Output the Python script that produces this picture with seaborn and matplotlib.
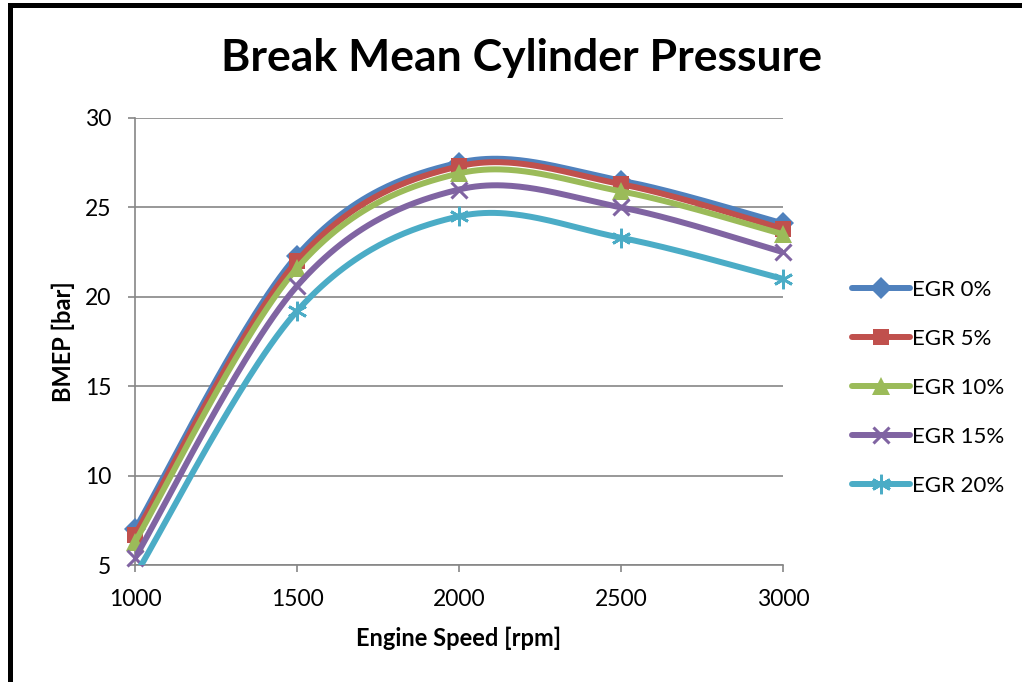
import numpy as np
import pandas as pd
import matplotlib
matplotlib.use("Agg")
import matplotlib.pyplot as plt
from matplotlib.lines import Line2D
import seaborn as sns

# ---- data ----
speed = [1000, 1500, 2000, 2500, 3000]
series_names = ["EGR 0%", "EGR 5%", "EGR 10%", "EGR 15%", "EGR 20%"]
egr0 = [7.0, 22.3, 27.5, 26.5, 24.1]
egr5 = [6.7, 22.0, 27.3, 26.3, 23.8]
egr10 = [6.3, 21.6, 26.9, 25.9, 23.5]
egr15 = [5.4, 20.6, 26.0, 25.0, 22.5]
egr20 = [4.4, 19.2, 24.5, 23.3, 21.0]
values = [egr0, egr5, egr10, egr15, egr20]
yticks = [5, 10, 15, 20, 25, 30]
xticks = [1000, 1500, 2000, 2500, 3000]

colors = ["#4F81BD", "#C0504D", "#9BBB59", "#8064A2", "#4BACC6"]
markers = ["D", "s", "^", "x", "*"]
msizes = [11, 12, 13, 12, 14]

sns.set_theme(style="white")
FONT = ["Lato", "DejaVu Sans"]
plt.rcParams["font.family"] = FONT
plt.rcParams["text.color"] = "black"
plt.rcParams["axes.labelcolor"] = "black"
plt.rcParams["xtick.color"] = "black"
plt.rcParams["ytick.color"] = "black"

YMIN, YMAX = 5, 30


def smooth(xs, ys, n=60):
    """Excel-like Catmull-Rom (Bezier) smoothing between data points."""
    xs = np.asarray(xs, float)
    ys = np.asarray(ys, float)
    P = np.column_stack([xs, ys])
    m = len(P)
    out = []
    t = np.linspace(0, 1, n)[:, None]
    for i in range(m - 1):
        p0 = P[i - 1] if i > 0 else P[i]
        p1 = P[i]
        p2 = P[i + 1]
        p3 = P[i + 2] if i + 2 < m else P[i + 1]
        c1 = p1 + (p2 - p0) / 6.0
        c2 = p2 - (p3 - p1) / 6.0
        seg = ((1 - t) ** 3) * p1 + 3 * ((1 - t) ** 2) * t * c1 + 3 * (1 - t) * t ** 2 * c2 + t ** 3 * p2
        out.append(seg if i == 0 else seg[1:])
    return np.vstack(out)


def marker_kw(mk, ms):
    if mk == "x":
        return dict(marker="x", markersize=ms, markeredgewidth=2.2)
    if mk == "*":
        return dict(marker=(6, 2, 0), markersize=ms, markeredgewidth=2.0)
    return dict(marker=mk, markersize=ms, markeredgewidth=0)


fig = plt.figure(figsize=(10.22, 6.82), dpi=100)
ax = fig.add_axes([135 / 1022, 1 - 565 / 682, (783 - 135) / 1022, (565 - 118) / 682])

rows = []
for name, vals in zip(series_names, values):
    pts = smooth(speed, vals)
    for x, y in pts:
        rows.append({"speed": x, "bmep": y, "series": name})
dense = pd.DataFrame(rows)

pts_df = pd.DataFrame({
    "speed": np.tile(speed, len(series_names)),
    "bmep": np.concatenate(values),
    "series": np.repeat(series_names, len(speed)),
})

for k, (name, c, mk, ms) in enumerate(zip(series_names, colors, markers, msizes)):
    sub = dense[dense["series"] == name]
    sns.lineplot(data=sub, x="speed", y="bmep", color=c, linewidth=4.3,
                 sort=False, estimator=None, ax=ax, zorder=3 + 2 * k,
                 solid_capstyle="round")
    psub = pts_df[(pts_df["series"] == name) & (pts_df["bmep"] >= YMIN) & (pts_df["bmep"] <= YMAX)]
    ax.plot(psub["speed"], psub["bmep"], linestyle="none", color=c,
            zorder=4 + 2 * k, clip_on=False, **marker_kw(mk, ms))

ax.set_xlim(1000, 3000)
ax.set_ylim(YMIN, YMAX)
ax.set_xticks(xticks)
ax.set_yticks(yticks)
ax.tick_params(axis="both", labelsize=16.5, length=5, width=1.2, color="#868686",
               direction="out", left=True, bottom=True)
ax.tick_params(axis="y", pad=12)
ax.tick_params(axis="x", pad=12)
ax.grid(axis="y", color="#868686", linewidth=1.2)
ax.grid(axis="x", visible=False)
for s in ["top", "right"]:
    ax.spines[s].set_visible(False)
for s in ["left", "bottom"]:
    ax.spines[s].set_color("#868686")
    ax.spines[s].set_linewidth(1.2)
ax.set_xlabel("Engine Speed [rpm]", fontsize=17, fontweight="bold", labelpad=12)
ax.set_ylabel("BMEP [bar]", fontsize=17, fontweight="bold", labelpad=7)
ax.set_axisbelow(True)

fig.text(521 / 1022, 1 - 58 / 682, "Break Mean Cylinder Pressure", ha="center", va="center",
         fontsize=32, fontweight="bold", color="black")

handles = []
for name, c, mk, ms in zip(series_names, colors, markers, msizes):
    handles.append(Line2D([], [], color=c, linewidth=4.3, solid_capstyle="round", **marker_kw(mk, ms)))
leg = fig.legend(handles, series_names, loc="center left", bbox_to_anchor=(832 / 1022, 1 - 388 / 682),
                 frameon=False, fontsize=16, handlelength=2.6, handletextpad=0.1, labelspacing=1.3)

# outer black frame (top and left visible)
fig.add_artist(Line2D([9.5 / 1022, 9.5 / 1022], [0, 1 - 5 / 682], transform=fig.transFigure,
                      color="black", linewidth=3.6, solid_capstyle="projecting"))
fig.add_artist(Line2D([9.5 / 1022, 1.0], [1 - 5 / 682, 1 - 5 / 682], transform=fig.transFigure,
                      color="black", linewidth=3.6, solid_capstyle="projecting"))

fig.savefig("out.png", dpi=100, facecolor="white")
